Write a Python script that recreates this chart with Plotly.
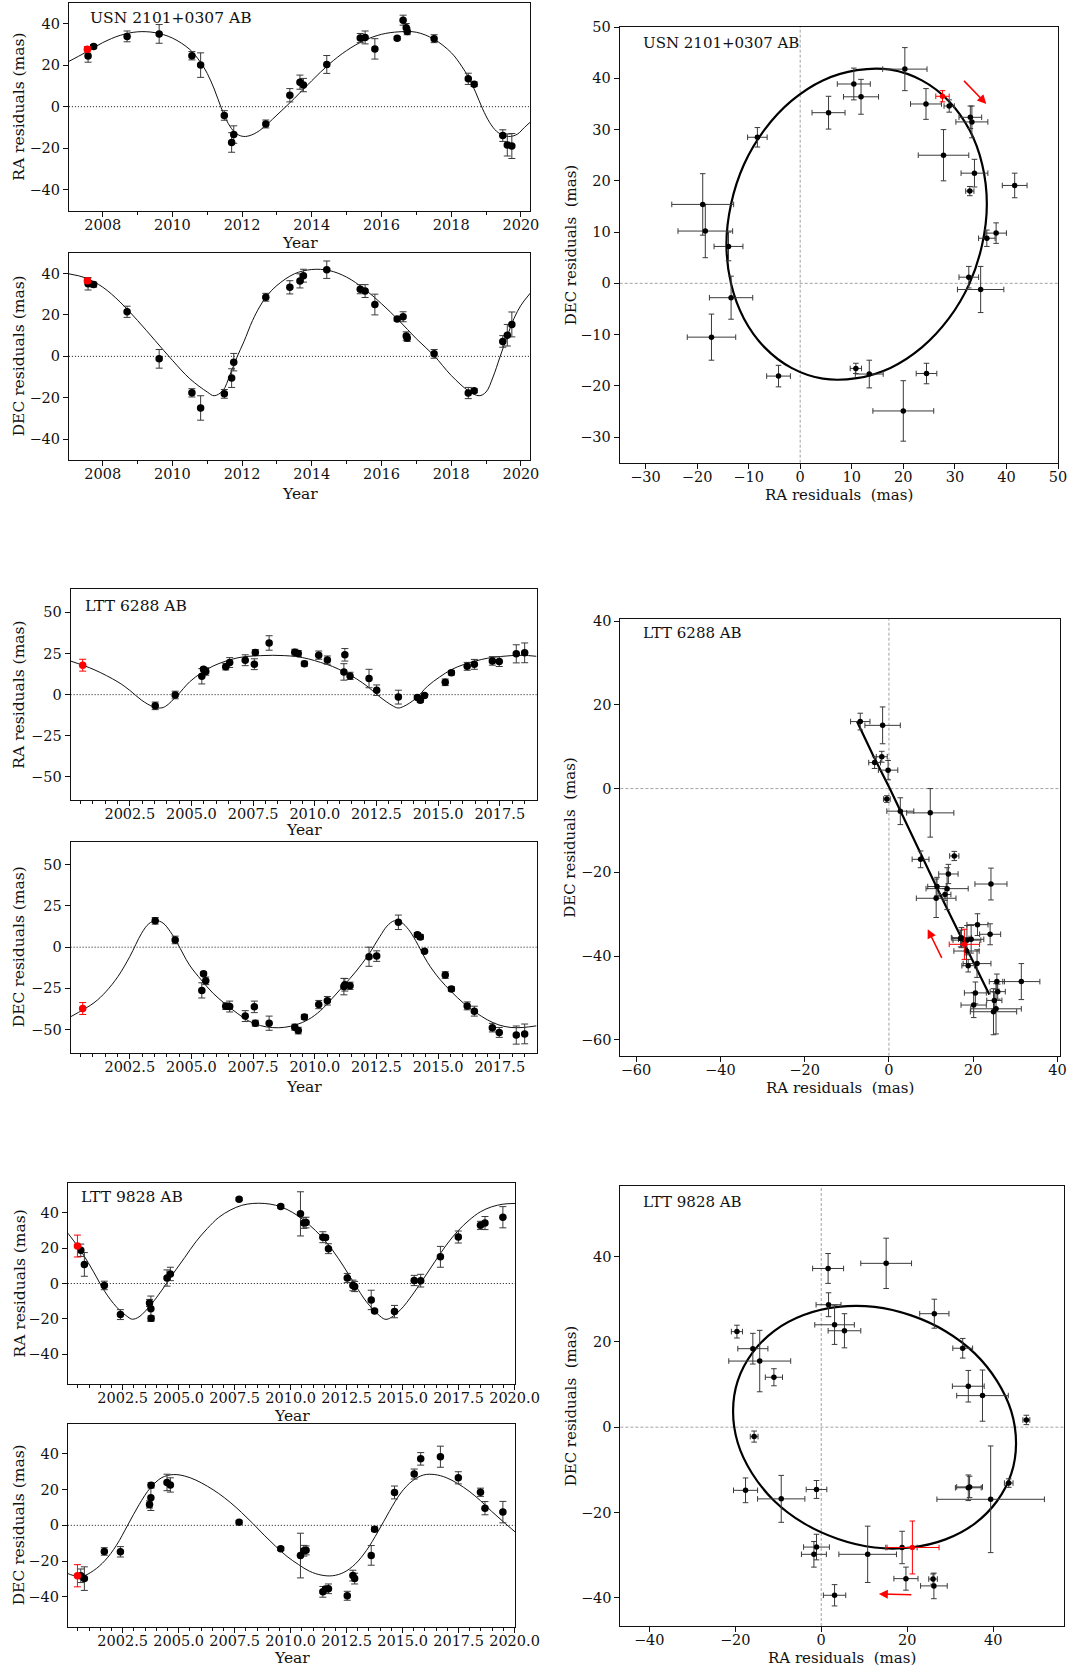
import plotly.graph_objects as go

W, H = 1072, 1669
FONT = "DejaVu Serif"
INK = "#111111"
ERRC = "#3a3a3a"
RED = "#ff0000"

# ================= System 1 : USN 2101+0307 AB =================
s1_name = "USN 2101+0307 AB"
s1_year = [2007.58, 2007.74, 2008.70, 2009.62, 2010.56, 2010.81, 2011.49, 2011.70, 2011.76,
           2012.68, 2013.37, 2013.66, 2013.76, 2014.43, 2015.39, 2015.53, 2015.81, 2016.45,
           2016.62, 2016.71, 2016.74, 2017.51, 2018.49, 2018.66, 2019.48, 2019.61, 2019.74]
s1_ra = [24.4, 28.9, 33.8, 35.0, 24.5, 20.0, -4.2, -17.2, -13.4, -8.3, 5.5, 11.8, 10.4, 20.3,
         33.0, 33.3, 27.8, 32.9, 41.6, 38.0, 36.2, 32.7, 13.4, 10.8, -13.9, -18.4, -18.9]
s1_ra_err = [3.0, 1.0, 2.6, 4.5, 2.0, 5.9, 2.3, 4.7, 4.2, 1.9, 3.2, 3.4, 3.2, 4.3, 2.2, 3.1,
             4.9, 0.8, 2.4, 2.0, 1.6, 1.9, 2.7, 1.1, 2.8, 5.3, 6.0]
s1_dec = [35.0, 34.6, 21.5, -1.2, -17.6, -24.9, -18.1, -10.5, -2.8, 28.5, 33.3, 36.4, 38.9,
          41.8, 32.4, 31.5, 25.0, 18.0, 19.1, 9.8, 8.8, 1.2, -17.7, -16.6, 7.2, 10.2, 15.4]
s1_dec_err = [3.0, 1.2, 2.7, 4.5, 2.0, 5.9, 2.1, 4.5, 4.2, 1.9, 3.2, 3.4, 3.1, 4.2, 2.2, 3.1,
              5.0, 0.9, 2.4, 2.0, 1.6, 2.1, 2.7, 1.0, 2.8, 5.2, 6.0]
s1_red_year = [2007.56]
s1_red_ra = [27.6]
s1_red_ra_err = [1.3]
s1_red_dec = [36.5]
s1_red_dec_err = [1.1]
s1_curve_ra_year = [2007.03, 2007.5, 2008.0, 2008.5, 2009.0, 2009.5, 2010.0, 2010.5, 2010.8,
                    2011.0, 2011.2, 2011.4, 2011.6, 2011.8, 2012.0, 2012.2, 2012.5, 2013.0,
                    2013.5, 2014.0, 2014.5, 2015.0, 2015.5, 2016.0, 2016.5, 2017.0, 2017.5,
                    2018.0, 2018.3, 2018.5, 2018.7, 2018.9, 2019.1, 2019.3, 2019.5, 2019.7,
                    2019.9, 2020.1, 2020.27]
s1_curve_ra = [21.8, 26.0, 30.8, 34.3, 36.0, 35.6, 33.0, 27.5, 21.5, 16.0, 8.5, -0.5, -8.0,
               -12.5, -14.2, -14.0, -11.5, -4.0, 4.0, 12.5, 20.5, 27.0, 31.8, 34.8, 36.0,
               35.8, 32.5, 26.0, 19.5, 14.0, 7.0, -1.0, -7.5, -11.8, -13.8, -14.3, -13.2,
               -10.0, -7.4]
s1_curve_dec_year = [2007.03, 2007.5, 2008.0, 2008.5, 2009.0, 2009.5, 2010.0, 2010.5, 2011.0,
                     2011.2, 2011.45, 2011.65, 2011.85, 2012.05, 2012.3, 2012.5, 2012.7,
                     2013.0, 2013.5, 2014.0, 2014.5, 2015.0, 2015.5, 2016.0, 2016.5, 2017.0,
                     2017.5, 2018.0, 2018.5, 2018.8, 2019.0, 2019.2, 2019.4, 2019.6, 2019.8,
                     2020.0, 2020.27]
s1_curve_dec = [39.8, 37.9, 33.4, 26.2, 17.3, 7.7, -1.9, -10.8, -17.2, -19.0, -16.5, -9.0,
                -0.5, 7.0, 17.3, 23.8, 28.9, 34.2, 39.8, 41.9, 41.4, 38.2, 32.6, 25.4, 17.3,
                8.5, 0.5, -9.2, -16.7, -19.0, -17.2, -10.0, -0.3, 9.3, 18.2, 24.6, 30.5]
s1_orbit_ra = [36.2, 35.3, 32.8, 28.8, 23.6, 17.5, 11.0, 4.4, -1.7, -6.9, -10.9, -13.4,
               -14.3, -13.4, -10.9, -6.9, -1.7, 4.4, 11.0, 17.5, 23.6, 28.8, 32.8, 35.3, 36.2]
s1_orbit_dec = [15.5, 23.2, 30.0, 35.6, 39.6, 41.7, 41.6, 39.6, 35.6, 30.0, 23.2, 15.5,
                7.6, -0.1, -6.9, -12.5, -16.5, -18.6, -18.5, -16.5, -12.5, -6.9, -0.1, 7.6, 15.5]
s1_arrow_tail = [31.5, 39.8]
s1_arrow_head = [36.1, 35.0]

# ================= System 2 : LTT 6288 AB =================
s2_name = "LTT 6288 AB"
s2_year = [2003.53, 2004.34, 2005.42, 2005.49, 2005.58, 2006.39, 2006.55, 2007.18, 2007.55,
           2007.59, 2008.15, 2009.19, 2009.33, 2009.58, 2010.16, 2010.51, 2011.18, 2011.22,
           2011.43, 2012.20, 2012.51, 2013.39, 2014.16, 2014.28, 2014.45, 2015.29, 2015.54,
           2016.18, 2016.47, 2017.20, 2017.48, 2018.17, 2018.51]
s2_ra = [-6.8, -0.2, 11.2, 15.5, 14.1, 17.0, 19.5, 20.9, 18.5, 25.6, 31.4, 25.8, 25.0, 18.8,
         24.0, 21.0, 13.8, 24.2, 11.4, 9.8, 2.7, -1.5, -1.7, -3.4, -0.5, 7.5, 13.3, 17.2,
         18.4, 20.5, 20.1, 24.8, 25.4]
s2_ra_err = [2.3, 2.3, 4.7, 1.1, 2.3, 2.0, 3.0, 3.3, 3.3, 1.8, 4.4, 1.8, 1.8, 1.5, 2.5, 2.5,
             5.0, 3.8, 2.2, 5.6, 3.2, 4.2, 1.3, 1.4, 0.8, 2.0, 1.4, 2.4, 3.0, 2.6, 3.0, 5.5, 6.0]
s2_dec = [16.0, 4.4, -26.2, -16.1, -20.4, -35.8, -36.0, -41.8, -36.2, -46.1, -46.1, -48.5,
          -50.6, -42.3, -34.8, -32.5, -23.9, -22.8, -23.4, -5.8, -5.4, 15.1, 7.6, 6.2, -2.5,
          -16.9, -25.3, -35.6, -38.8, -48.8, -51.7, -53.3, -52.6]
s2_dec_err = [2.0, 2.3, 4.6, 1.1, 2.3, 2.0, 3.3, 3.3, 3.5, 1.8, 4.3, 1.8, 2.0, 1.5, 2.5, 2.6,
              5.0, 3.8, 2.2, 5.8, 3.2, 4.4, 1.3, 1.4, 0.8, 2.0, 1.4, 2.4, 3.0, 2.6, 3.0, 5.5, 6.0]
s2_red_year = [2000.59]
s2_red_ra = [17.9]
s2_red_ra_err = [3.6]
s2_red_dec = [-37.2]
s2_red_dec_err = [3.6]
s2_curve_ra_year = [2000.10, 2001.05, 2002.02, 2002.50, 2002.98, 2003.47, 2003.76, 2003.95,
                    2004.43, 2004.92, 2005.40, 2005.88, 2006.36, 2006.85, 2007.33, 2007.81,
                    2008.30, 2008.78, 2009.26, 2009.75, 2010.23, 2010.71, 2011.19, 2011.68,
                    2012.16, 2012.64, 2013.13, 2013.37, 2013.61, 2014.09, 2014.57, 2015.06,
                    2015.54, 2016.02, 2016.51, 2016.99, 2017.47, 2017.96, 2018.44, 2018.99]
s2_curve_ra = [20.4, 15.2, 7.7, 2.6, -3.4, -7.5, -8.1, -7.1, -0.4, 7.7, 13.2, 17.4, 20.2, 22.3,
               23.3, 23.7, 23.9, 23.7, 23.1, 21.7, 19.6, 17.2, 13.8, 9.7, 4.7, -1.4, -6.5,
               -8.1, -7.1, -2.4, 5.1, 10.7, 15.2, 18.2, 20.4, 22.1, 23.1, 23.7, 23.9, 23.3]
s2_curve_dec_year = [2000.10, 2001.05, 2001.53, 2002.02, 2002.50, 2002.98, 2003.27, 2003.56,
                     2003.85, 2004.14, 2004.43, 2004.92, 2005.40, 2005.88, 2006.36, 2006.85,
                     2007.33, 2007.81, 2008.30, 2008.78, 2009.26, 2009.75, 2010.23, 2010.71,
                     2011.19, 2011.68, 2012.16, 2012.64, 2012.93, 2013.22, 2013.51, 2013.80,
                     2014.09, 2014.57, 2015.06, 2015.54, 2016.02, 2016.51, 2016.99, 2017.47,
                     2017.96, 2018.44, 2018.99]
s2_curve_dec = [-42.2, -33.7, -27.0, -17.8, -5.7, 8.5, 14.2, 16.2, 14.6, 9.5, 2.4, -10.8,
                -19.9, -28.0, -34.3, -40.0, -44.8, -47.6, -48.8, -48.6, -47.0, -43.8, -38.5,
                -31.0, -23.0, -14.5, -5.0, 6.5, 12.8, 16.0, 15.0, 10.8, 4.0, -9.2, -19.3,
                -27.0, -33.8, -39.4, -44.0, -47.2, -48.7, -48.7, -47.7]
s2_orbit_ra = [-7.6, -3.8, 0.2, 4.1, 8.0, 12.0, 15.9, 19.8, 23.8]
s2_orbit_dec = [16.1, 8.0, 0.0, -8.4, -16.6, -25.0, -33.0, -41.0, -49.2]
s2_arrow_tail = [12.7, -40.8]
s2_arrow_head = [9.2, -33.6]

# ================= System 3 : LTT 9828 AB =================
s3_name = "LTT 9828 AB"
s3_year = [2000.63, 2000.79, 2001.68, 2002.40, 2003.70, 2003.76, 2003.77, 2004.48, 2004.63,
           2007.70, 2009.56, 2010.44, 2010.59, 2010.69, 2011.44, 2011.56, 2011.69, 2012.53,
           2012.78, 2012.86, 2013.60, 2013.75, 2014.64, 2015.52, 2015.81, 2016.69, 2017.49,
           2018.48, 2018.68, 2019.48]
s3_ra = [18.8, 10.8, -1.1, -17.6, -11.0, -14.3, -19.6, 3.1, 5.4, 47.7, 43.6, 39.4, 34.2, 34.5,
         26.2, 26.0, 19.7, 3.1, -1.1, -1.7, -9.3, -15.6, -15.9, 1.7, 1.6, 15.1, 26.3, 32.9,
         34.2, 37.5]
s3_ra_err = [3.5, 6.7, 2.4, 2.8, 2.0, 7.2, 1.3, 4.6, 3.8, 0.8, 1.0, 12.5, 3.0, 3.0, 3.1, 1.0,
             2.8, 2.6, 3.0, 2.9, 5.5, 0.9, 3.5, 2.9, 3.6, 5.9, 3.4, 2.3, 3.7, 6.0]
s3_dec = [-28.2, -29.8, -14.6, -14.8, 11.7, 15.5, 22.4, 24.0, 22.6, 1.7, -13.1, -16.9, -14.2,
          -14.0, -37.2, -35.6, -35.5, -39.4, -28.1, -29.8, -16.8, -2.2, 18.4, 28.7, 37.2,
          38.4, 26.6, 18.5, 9.6, 7.4]
s3_dec_err = [3.8, 6.6, 2.1, 2.9, 2.0, 7.2, 1.5, 4.6, 4.0, 1.1, 1.0, 12.5, 3.0, 2.5, 3.0, 1.2,
              2.7, 2.5, 3.0, 3.0, 5.5, 1.3, 3.6, 2.8, 3.5, 5.9, 3.4, 2.3, 3.7, 6.0]
s3_red_year = [2000.48]
s3_red_ra = [21.2]
s3_red_ra_err = [6.2]
s3_red_dec = [-28.2]
s3_red_dec_err = [6.2]
s3_curve_ra_year = [2000.00, 2000.18, 2000.69, 2001.20, 2001.71, 2002.22, 2002.73, 2002.93,
                    2003.23, 2003.74, 2004.25, 2004.76, 2005.27, 2005.77, 2006.28, 2006.79,
                    2007.30, 2007.81, 2008.31, 2008.82, 2009.33, 2009.84, 2010.35, 2010.85,
                    2011.36, 2011.87, 2012.38, 2012.89, 2013.39, 2013.90, 2014.21, 2014.41,
                    2014.92, 2015.43, 2015.94, 2016.44, 2016.95, 2017.46, 2017.97, 2018.48,
                    2018.98, 2019.49, 2020.02]
s3_curve_ra = [29.2, 26.4, 17.4, 6.6, -4.7, -13.2, -18.9, -20.2, -18.9, -12.3, -3.8, 5.7, 14.7,
               23.6, 31.1, 37.4, 41.5, 44.2, 45.3, 45.3, 44.3, 41.9, 38.1, 33.0, 26.8, 18.9,
               9.4, -0.9, -10.4, -17.4, -20.2, -19.8, -14.7, -6.6, 2.8, 12.3, 21.7, 29.6, 35.8,
               40.6, 43.4, 44.9, 45.3]
s3_curve_dec_year = [2000.00, 2000.18, 2000.69, 2001.20, 2001.71, 2002.22, 2002.73, 2003.23,
                     2003.74, 2004.25, 2004.76, 2005.27, 2005.77, 2006.28, 2006.79, 2007.30,
                     2007.81, 2008.31, 2008.82, 2009.33, 2009.84, 2010.35, 2010.85, 2011.36,
                     2011.87, 2012.38, 2012.89, 2013.39, 2013.90, 2014.41, 2014.92, 2015.43,
                     2015.94, 2016.44, 2016.95, 2017.46, 2017.97, 2018.48, 2018.98, 2019.49,
                     2020.02]
s3_curve_dec = [-26.5, -27.6, -28.5, -25.3, -19.7, -11.2, 0.2, 11.5, 21.0, 26.7, 28.4, 27.6,
                25.3, 21.9, 17.8, 12.9, 7.2, 1.1, -5.5, -11.7, -17.4, -21.9, -25.7, -27.8,
                -28.2, -26.3, -21.6, -14.0, -3.6, 7.8, 18.1, 24.8, 28.2, 28.4, 26.7, 23.4,
                19.1, 13.8, 7.8, 2.1, -3.6]
s3_orbit_ra = [45.3, 44.2, 40.9, 35.7, 28.9, 20.9, 12.4, 3.9, -4.1, -10.9, -16.1, -19.4,
               -20.5, -19.4, -16.1, -10.9, -4.1, 3.9, 12.4, 20.9, 28.9, 35.7, 40.9, 44.2, 45.3]
s3_orbit_dec = [-3.8, 3.7, 10.8, 17.3, 22.5, 26.2, 28.2, 28.2, 26.3, 22.6, 17.3, 10.9,
                3.8, -3.7, -10.8, -17.3, -22.5, -26.2, -28.2, -28.2, -26.3, -22.6, -17.3,
                -10.9, -3.8]
s3_arrow_tail = [21.3, -39.3]
s3_arrow_head = [13.4, -39.1]

systems = [
    dict(name=s1_name, year=s1_year, ra=s1_ra, rae=s1_ra_err, dec=s1_dec, dece=s1_dec_err,
         ryear=s1_red_year, rra=s1_red_ra, rrae=s1_red_ra_err, rdec=s1_red_dec, rdece=s1_red_dec_err,
         cry=s1_curve_ra_year, cra=s1_curve_ra, cdy=s1_curve_dec_year, cdec=s1_curve_dec,
         ora=s1_orbit_ra, odec=s1_orbit_dec, tail=s1_arrow_tail, head=s1_arrow_head),
    dict(name=s2_name, year=s2_year, ra=s2_ra, rae=s2_ra_err, dec=s2_dec, dece=s2_dec_err,
         ryear=s2_red_year, rra=s2_red_ra, rrae=s2_red_ra_err, rdec=s2_red_dec, rdece=s2_red_dec_err,
         cry=s2_curve_ra_year, cra=s2_curve_ra, cdy=s2_curve_dec_year, cdec=s2_curve_dec,
         ora=s2_orbit_ra, odec=s2_orbit_dec, tail=s2_arrow_tail, head=s2_arrow_head),
    dict(name=s3_name, year=s3_year, ra=s3_ra, rae=s3_ra_err, dec=s3_dec, dece=s3_dec_err,
         ryear=s3_red_year, rra=s3_red_ra, rrae=s3_red_ra_err, rdec=s3_red_dec, rdece=s3_red_dec_err,
         cry=s3_curve_ra_year, cra=s3_curve_ra, cdy=s3_curve_dec_year, cdec=s3_curve_dec,
         ora=s3_orbit_ra, odec=s3_orbit_dec, tail=s3_arrow_tail, head=s3_arrow_head),
]

# ---------------- layout geometry (pixels) ----------------
rows = [
    dict(lx=(68.9, 530.3), ra_y=(2.7, 210.7), dec_y=(252.7, 460.0),
         ox=(619.7, 1058.1), oy=(27.0, 462.7),
         trange=[2007.03, 2020.27], tick0=2008, dtick=2, minor=1, tfmt="d",
         yrange=[-50, 50], ydtick=20,
         oxr=[-35, 50.02], oyr=[-35, 50.02], odt=10,
         label_l=(0.041, 0.925), label_o=(0.048, 0.964),
         year_ra=243, year_dec=494, otitle=495),
    dict(lx=(70.6, 536.5), ra_y=(589.3, 800.0), dec_y=(841.7, 1052.7),
         ox=(620.4, 1060.1), oy=(619.0, 1055.7),
         trange=[2000.10, 2018.99], tick0=2002.5, dtick=2.5, minor=0.5, tfmt=".1f",
         yrange=[-64, 64], ydtick=25,
         oxr=[-63.7, 40.6], oyr=[-63.8, 40.5], odt=20,
         label_l=(0.026, 0.921), label_o=(0.046, 0.967),
         year_ra=830, year_dec=1087, otitle=1088),
    dict(lx=(67.8, 515.2), ra_y=(1183.3, 1383.7), dec_y=(1424.0, 1626.7),
         ox=(620.4, 1064.2), oy=(1185.7, 1626.0),
         trange=[2000.05, 2020.03], tick0=2002.5, dtick=2.5, minor=0.5, tfmt=".1f",
         yrange=[-56.7, 56.7], ydtick=20,
         oxr=[-46.7, 56.5], oyr=[-46.6, 56.6], odt=20,
         label_l=(0.025, 0.93), label_o=(0.046, 0.964),
         year_ra=1416, year_dec=1658, otitle=1658),
]


def dom_x(a, b):
    return [a / W, b / W]


def dom_y(t, b):
    return [1 - b / H, 1 - t / H]


def aid(i):
    return ("x" if i == 1 else f"x{i}"), ("y" if i == 1 else f"y{i}")


def base_axis(**kw):
    d = dict(showline=True, linecolor=INK, linewidth=1, mirror=True, ticks="outside",
             ticklen=5, tickwidth=1, tickcolor=INK, showgrid=False, zeroline=False,
             tickfont=dict(family=FONT, size=14.5, color=INK), automargin=False)
    d.update(kw)
    return d


fig = go.Figure()
layout = {}
shapes = []
annotations = []


def ann_text(x, y, text, size=15, angle=0, xanchor="center", yanchor="middle"):
    annotations.append(dict(x=x / W, y=1 - y / H, xref="paper", yref="paper", text=text,
                            showarrow=False, textangle=angle, xanchor=xanchor, yanchor=yanchor,
                            font=dict(family=FONT, size=size, color=INK)))


for r, (cfg, s) in enumerate(zip(rows, systems)):
    i_ra, i_dec, i_orb = 3 * r + 1, 3 * r + 2, 3 * r + 3

    # ----- time panels -----
    for idx, yvals, yerr, ryv, rye, cy, cv, ydom, ytitle in [
        (i_ra, s["ra"], s["rae"], s["rra"], s["rrae"], s["cry"], s["cra"], cfg["ra_y"], "RA residuals (mas)"),
        (i_dec, s["dec"], s["dece"], s["rdec"], s["rdece"], s["cdy"], s["cdec"], cfg["dec_y"], "DEC residuals (mas)"),
    ]:
        xa, ya = aid(idx)
        fig.add_trace(go.Scatter(x=cy, y=cv, mode="lines", line=dict(color=INK, width=1, shape="spline"),
                                 xaxis=xa, yaxis=ya, hoverinfo="skip"))
        fig.add_trace(go.Scatter(x=s["year"], y=yvals, mode="markers",
                                 marker=dict(color="black", size=7.5),
                                 error_y=dict(type="data", array=yerr, visible=True, color=ERRC,
                                              thickness=1, width=3.5),
                                 xaxis=xa, yaxis=ya))
        fig.add_trace(go.Scatter(x=s["ryear"], y=ryv, mode="markers",
                                 marker=dict(color=RED, size=7.5),
                                 error_y=dict(type="data", array=rye, visible=True, color=RED,
                                              thickness=1, width=3.5),
                                 xaxis=xa, yaxis=ya))
        kx = "xaxis" if idx == 1 else f"xaxis{idx}"
        ky = "yaxis" if idx == 1 else f"yaxis{idx}"
        layout[kx] = base_axis(domain=dom_x(*cfg["lx"]), anchor=ya, range=cfg["trange"],
                               tick0=cfg["tick0"], dtick=cfg["dtick"], tickformat=cfg["tfmt"],
                               ticklabelstandoff=-4,
                               minor=dict(dtick=cfg["minor"], ticks="outside", ticklen=3,
                                          tickcolor=INK, showgrid=False))
        layout[ky] = base_axis(domain=dom_y(*ydom), anchor=xa, range=cfg["yrange"],
                               tick0=0, dtick=cfg["ydtick"])
        shapes.append(dict(type="line", xref=f"{xa} domain", yref=ya, x0=0, x1=1, y0=0, y1=0,
                           line=dict(color=INK, width=1, dash="1px,2px"), layer="below"))
        cx = (cfg["lx"][0] + cfg["lx"][1]) / 2
        cyy = (ydom[0] + ydom[1]) / 2
        ann_text(19, cyy, ytitle, size=15.5, angle=-90)
        ann_text(cx, cfg["year_ra"] if idx == i_ra else cfg["year_dec"], "Year", size=15.5)

    # name label on RA panel
    xa, ya = aid(i_ra)
    annotations.append(dict(x=cfg["label_l"][0], y=cfg["label_l"][1], xref=f"{xa} domain",
                            yref=f"{ya} domain", text=s["name"], showarrow=False,
                            xanchor="left", yanchor="middle",
                            font=dict(family=FONT, size=15.5, color=INK)))

    # ----- orbit panel -----
    xa, ya = aid(i_orb)
    closed = r != 1
    fig.add_trace(go.Scatter(x=s["ora"], y=s["odec"], mode="lines",
                             line=dict(color="black", width=2.2, shape="spline" if closed else "linear"),
                             xaxis=xa, yaxis=ya, hoverinfo="skip"))
    fig.add_trace(go.Scatter(x=s["ra"], y=s["dec"], mode="markers",
                             marker=dict(color="black", size=5.5),
                             error_x=dict(type="data", array=s["rae"], visible=True, color=ERRC,
                                          thickness=1, width=2.8),
                             error_y=dict(type="data", array=s["dece"], visible=True, color=ERRC,
                                          thickness=1, width=2.8),
                             xaxis=xa, yaxis=ya))
    fig.add_trace(go.Scatter(x=s["rra"], y=s["rdec"], mode="markers",
                             marker=dict(color=RED, size=5.5),
                             error_x=dict(type="data", array=s["rrae"], visible=True, color=RED,
                                          thickness=1, width=2.8),
                             error_y=dict(type="data", array=s["rdece"], visible=True, color=RED,
                                          thickness=1, width=2.8),
                             xaxis=xa, yaxis=ya))
    kx, ky = f"xaxis{i_orb}", f"yaxis{i_orb}"
    layout[kx] = base_axis(domain=dom_x(*cfg["ox"]), anchor=ya, range=cfg["oxr"], tick0=0,
                           dtick=cfg["odt"], ticklabelstandoff=-4)
    layout[ky] = base_axis(domain=dom_y(*cfg["oy"]), anchor=xa, range=cfg["oyr"], tick0=0,
                           dtick=cfg["odt"])
    shapes.append(dict(type="line", xref=xa, yref=f"{ya} domain", x0=0, x1=0, y0=0, y1=1,
                       line=dict(color="#8a8a8a", width=0.8, dash="3px,2px"), layer="below"))
    shapes.append(dict(type="line", xref=f"{xa} domain", yref=ya, x0=0, x1=1, y0=0, y1=0,
                       line=dict(color="#8a8a8a", width=0.8, dash="3px,2px"), layer="below"))
    annotations.append(dict(x=cfg["label_o"][0], y=cfg["label_o"][1], xref=f"{xa} domain",
                            yref=f"{ya} domain", text=s["name"], showarrow=False,
                            xanchor="left", yanchor="middle",
                            font=dict(family=FONT, size=15, color=INK)))
    annotations.append(dict(x=s["head"][0], y=s["head"][1], ax=s["tail"][0], ay=s["tail"][1],
                            xref=xa, yref=ya, axref=xa, ayref=ya, text="", showarrow=True,
                            arrowhead=2, arrowsize=1.2, arrowwidth=1.5, arrowcolor=RED))
    ocx = (cfg["ox"][0] + cfg["ox"][1]) / 2
    ocy = (cfg["oy"][0] + cfg["oy"][1]) / 2
    ann_text(ocx, cfg["otitle"], "RA residuals  (mas)", size=15)
    ann_text(570.5, ocy, "DEC residuals  (mas)", size=15, angle=-90)

fig.update_layout(width=W, height=H, margin=dict(l=0, r=0, t=0, b=0),
                  paper_bgcolor="white", plot_bgcolor="white", showlegend=False,
                  font=dict(family=FONT, color=INK), shapes=shapes, annotations=annotations,
                  **layout)

fig.write_html("out.html")
